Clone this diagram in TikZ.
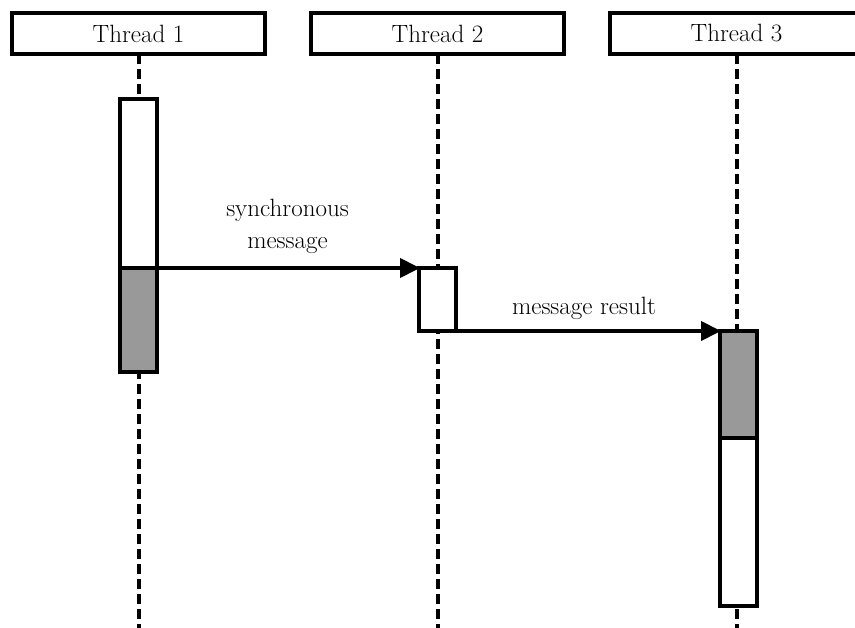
\documentclass[tikz,border=0pt]{standalone}
\usetikzlibrary{arrows.meta}
\definecolor{actgray}{RGB}{153,153,153}
\begin{document}
\begin{tikzpicture}[x=1pt,y=-1pt,
  font=\fontsize{25}{30}\selectfont,
  hdr/.style={draw,line width=4.5pt,fill=white,minimum width=253pt,minimum height=41pt,inner sep=0pt,outer sep=0pt},
  lifeline/.style={line width=4pt,dash pattern=on 10pt off 5pt},
  actwhite/.style={draw,line width=4.5pt,fill=white,minimum width=37pt,inner sep=0pt,outer sep=0pt,anchor=north},
  actfill/.style={actwhite,fill=actgray},
  msg/.style={line width=4pt,-{Triangle[length=20pt,width=19pt]},shorten >=-1pt},
  lbl/.style={inner sep=0pt,anchor=base}]
\useasboundingbox (0,0) rectangle (855,628);
\clip (0,0) rectangle (855,628);
% headers
\node[hdr] (h1) at (138.5,33.5) {Thread 1};
\node[hdr] (h2) at (437.5,33.5) {Thread 2};
\node[hdr] (h3) at (736.5,33.5) {Thread 3};
% lifeline ends
\coordinate (e1) at (138.5,640);
\coordinate (e2) at (437.5,640);
\coordinate (e3) at (736.5,640);
\draw[lifeline] (h1.south) -- (e1);
\draw[lifeline] (h2.south) -- (e2);
\draw[lifeline] (h3.south) -- (e3);
% activation bars
\node[actwhite,minimum height=170pt] (a1) at (138.5,99) {};
\node[actfill,minimum height=104pt] (a1g) at (138.5,268) {};
\node[actwhite,minimum height=63pt] (a2) at (437.5,268) {};
\node[actwhite,minimum height=275pt] (a3) at (738.5,331) {};
\node[actfill,minimum height=107pt] (a3g) at (738.5,331) {};
% messages
\draw[msg] (a1g.north east) -- (a2.north west);
\draw[msg] (a2.south east) -- (a3g.north west);
% labels
\node[lbl] (l1a) at (287.5,217) {synchronous};
\node[lbl] (l1b) at (287.5,249) {message};
\node[lbl] (l2) at (584,315) {message result};
\end{tikzpicture}
\end{document}
